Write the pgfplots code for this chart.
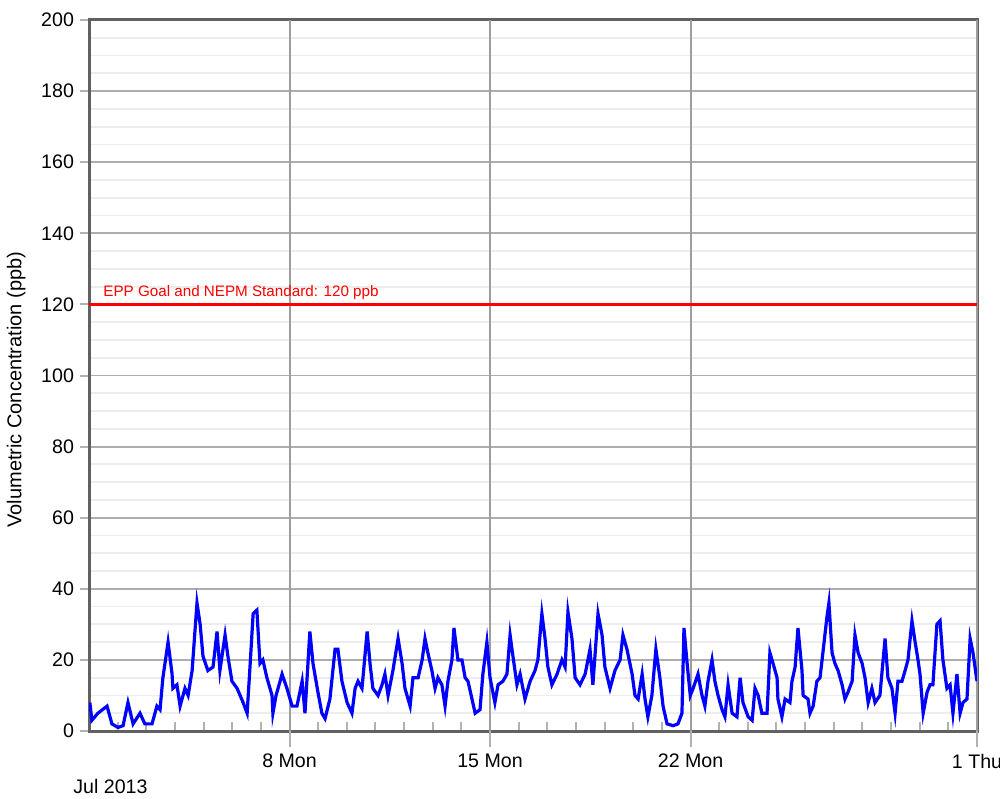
\documentclass[border=0pt]{standalone}
\usepackage{fontspec}
\setmainfont{Liberation Sans}
\usepackage{pgfplots}
\pgfplotsset{compat=1.18}
\begin{document}
\begin{tikzpicture}
\useasboundingbox (-44.5pt,-33.5pt) rectangle (455.5pt,365.5pt);
\begin{axis}[
  at={(0,0)}, anchor=south west,
  scale only axis, width=444pt, height=355.5pt,
  xmin=0, xmax=31, ymin=0, ymax=200,
  /pgf/number format/assume math mode=true,
  font=\fontsize{9.8}{11}\selectfont,
  xtick pos=bottom, ytick pos=left,
  xtick={1,2,3,4,5,6,8,9,10,11,12,13,15,16,17,18,19,20,22,23,24,25,26,27,28,29,30},
  xticklabels={},
  extra x ticks={7,14,21,31},
  extra x tick labels={8 Mon,15 Mon,22 Mon,1 Thu},
  extra x tick style={tick align=outside, major tick length=8pt, grid=major,
     major grid style={color=black!38, line width=1pt}},
  ytick={0,20,...,200},
  minor ytick={5,10,15,25,30,35,45,50,55,65,70,75,85,90,95,105,110,115,125,130,135,145,150,155,165,170,175,185,190,195},
  minor tick length=0pt,
  tick align=inside,
  major tick length=4.5pt,
  y tick style={xshift=-4.5pt},
  yticklabel style={xshift=-4pt},
  ymajorgrids, yminorgrids,
  major grid style={color=black!32, line width=0.9pt},
  minor grid style={color=black!7, line width=0.9pt},
  tick style={color=black!30, line width=1pt},
  axis line style={color=black!62, line width=1.5pt},
  ylabel={Volumetric Concentration (ppb)},
  ylabel style={at={(axis description cs:-0.082,0.48)}, anchor=center, font=\fontsize{10}{12}\selectfont},
  clip mode=individual,
]
\addplot[blue, line width=1.6pt] coordinates {
(0.03,8) (0.10,3) (0.31,5) (0.63,7) (0.80,2) (1.01,1) (1.19,1.5) (1.36,8) (1.54,2) (1.78,5) (1.95,2) (2.20,2) (2.37,7) (2.48,6) (2.58,15) (2.76,25) (2.90,16) (2.93,12) (3.07,13) (3.18,7) (3.35,12) (3.46,10) (3.60,17) (3.77,36) (3.88,30) (3.98,21) (4.15,17) (4.33,18) (4.47,28) (4.57,17) (4.75,27) (4.85,21) (4.99,14) (5.17,12) (5.38,8) (5.52,5) (5.62,18) (5.73,33) (5.86,34) (5.97,19) (6.07,20) (6.21,15) (6.39,10) (6.42,5) (6.53,10) (6.74,16) (6.91,12) (7.09,7) (7.26,7) (7.44,14) (7.54,5) (7.71,28) (7.82,19) (7.99,11) (8.13,5) (8.24,3.5) (8.41,9) (8.59,23) (8.69,23) (8.83,14) (9.01,8) (9.18,5) (9.29,12) (9.39,14) (9.53,12) (9.71,28) (9.81,19) (9.91,12) (10.09,10) (10.23,13) (10.33,16) (10.44,10) (10.61,17) (10.79,26) (10.93,19) (11.03,12) (11.21,7) (11.31,15) (11.49,15) (11.63,20) (11.73,26) (11.83,22) (11.97,17) (12.08,12) (12.18,15) (12.32,13) (12.43,7) (12.53,14) (12.67,20) (12.74,29) (12.88,20) (13.02,20) (13.13,15) (13.23,14) (13.37,9) (13.48,5) (13.65,6) (13.75,16) (13.89,25) (14.00,15) (14.17,8) (14.28,13) (14.45,14) (14.59,16) (14.70,27) (14.80,21) (14.94,13) (15.05,16) (15.22,9) (15.40,14) (15.57,17) (15.67,20) (15.81,33) (15.92,26) (16.02,18) (16.16,13) (16.34,16) (16.51,20) (16.62,18) (16.72,33.5) (16.86,26) (16.97,15) (17.14,13) (17.32,16) (17.49,23) (17.59,13) (17.77,33) (17.91,27) (18.01,18) (18.19,12) (18.36,17) (18.54,20) (18.64,27) (18.78,23) (18.96,16) (19.06,10) (19.17,9) (19.31,16) (19.41,9) (19.51,4) (19.65,10) (19.79,23) (19.93,15) (20.04,7) (20.18,2) (20.39,1.5) (20.56,2) (20.70,5) (20.77,29) (20.88,19) (20.99,10) (21.09,12) (21.26,16) (21.40,10) (21.50,7) (21.61,14) (21.75,20) (21.85,14) (21.96,10) (22.10,6) (22.20,4) (22.31,13) (22.45,5) (22.62,4) (22.73,15) (22.83,8) (23.01,4) (23.15,3) (23.25,12) (23.36,10) (23.49,5) (23.67,5) (23.77,22) (23.88,19) (24.02,15) (24.05,9) (24.19,4) (24.30,9) (24.47,8) (24.54,14) (24.65,18) (24.75,29) (24.89,17) (24.93,10) (25.10,9) (25.17,5) (25.28,7) (25.41,14) (25.52,15) (25.62,22) (25.76,32) (25.83,36) (25.94,22) (26.04,19) (26.15,17) (26.29,13) (26.39,9) (26.50,11) (26.64,14) (26.74,27) (26.85,22) (26.99,19) (27.09,15) (27.20,8) (27.33,12) (27.44,8) (27.61,10) (27.79,26) (27.89,15) (28.03,12) (28.14,5) (28.24,14) (28.38,14) (28.49,17) (28.59,20) (28.73,31) (28.84,25) (28.94,20) (29.01,16) (29.12,5) (29.26,11) (29.36,13) (29.46,13) (29.60,30) (29.71,31) (29.81,20) (29.95,12) (30.06,13) (30.16,5) (30.30,16) (30.41,5) (30.51,8) (30.65,9) (30.76,26) (30.86,22) (31.00,14)
};
\addplot[red, line width=1.5pt] coordinates {(0,120) (31,120)};
\node[anchor=south west, text=red, font=\fontsize{7.6}{9}\selectfont, inner sep=1pt] at (axis cs:0.42,120) [yshift=1pt] {EPP Goal and NEPM Standard: 120 ppb};
\node[anchor=center, font=\fontsize{9.8}{11}\selectfont] at (axis cs:0.75,0) [yshift=-27.5pt] {Jul 2013};
\end{axis}
\end{tikzpicture}
\end{document}
